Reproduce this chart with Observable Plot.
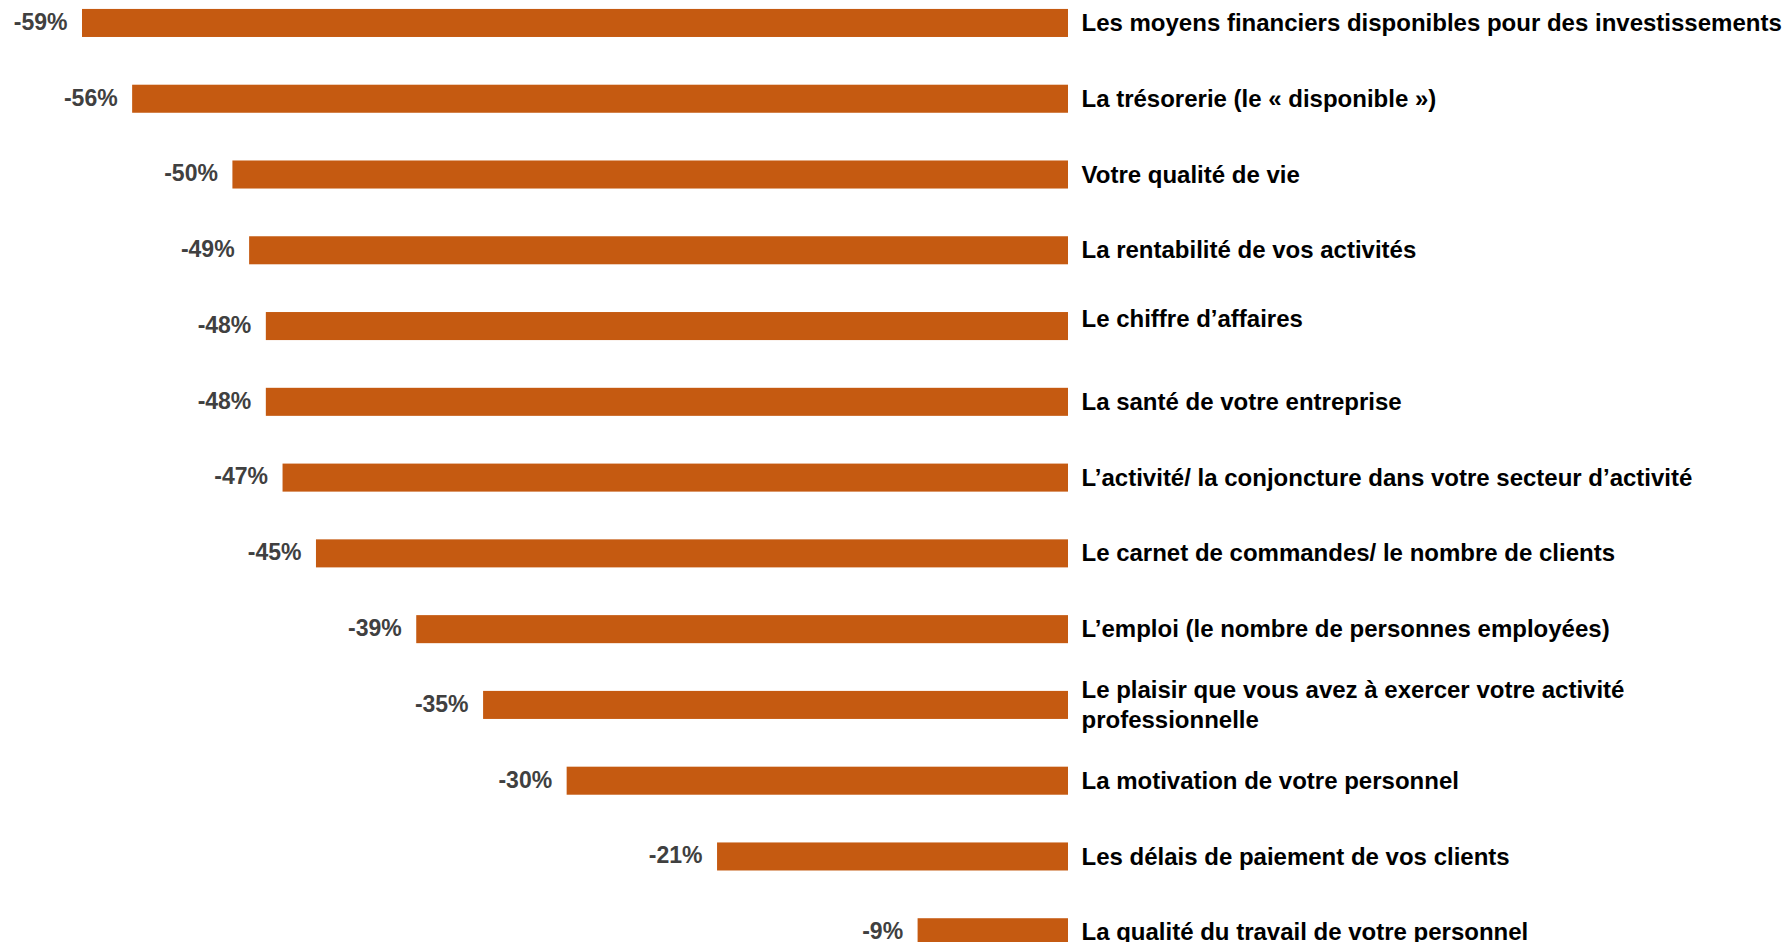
<!DOCTYPE html>
<html>
<head>
<meta charset="utf-8">
<script src="https://cdn.jsdelivr.net/npm/d3@7"></script>
<script src="https://cdn.jsdelivr.net/npm/@observablehq/plot@0.6"></script>
<style>
  html, body { margin: 0; padding: 0; background: #ffffff; overflow: hidden; }
  #chart svg { display: block; }
</style>
</head>
<body>
<div id="chart"></div>
<script>
const categories = [
  "Les moyens financiers disponibles pour des investissements",
  "La trésorerie (le « disponible »)",
  "Votre qualité de vie",
  "La rentabilité de vos activités",
  "Le chiffre d’affaires",
  "La santé de votre entreprise",
  "L’activité/ la conjoncture dans votre secteur d’activité",
  "Le carnet de commandes/ le nombre de clients",
  "L’emploi (le nombre de personnes employées)",
  "Le plaisir que vous avez à exercer votre activité\nprofessionnelle",
  "La motivation de votre personnel",
  "Les délais de paiement de vos clients",
  "La qualité du travail de votre personnel"
];
const values = [-59, -56, -50, -49, -48, -48, -47, -45, -39, -35, -30, -21, -9];
const valueLabels = ["-59%", "-56%", "-50%", "-49%", "-48%", "-48%", "-47%", "-45%", "-39%", "-35%", "-30%", "-21%", "-9%"];

const data = categories.map((c, i) => ({cat: c, value: values[i], label: valueLabels[i]}));

const font = "'Liberation Sans', Arial, Helvetica, sans-serif";

// In the original, the "Le chiffre d’affaires" label sits a little above its bar
const raised = new Set([categories[4]]);
const labelOpts = {x: 0, y: "cat", text: "cat", textAnchor: "start", dx: 13,
  fill: "#000000", fontWeight: "bold", fontSize: 24, lineHeight: 1.24, lineAnchor: "middle"};

const chart = Plot.plot({
  width: 1784,
  height: 942,
  marginLeft: 82,
  marginRight: 716,
  marginTop: 0,
  marginBottom: 0,
  style: {fontFamily: font, background: "#ffffff", overflow: "visible"},
  x: {domain: [d3.min(values), 0], axis: null},
  y: {domain: categories, range: [-38.8, 994], padding: 0.63, round: false, axis: null},
  marks: [
    Plot.barX(data, {x1: "value", x2: 0, y: "cat", fill: "#C55A11"}),
    Plot.text(data, {x: "value", y: "cat", text: "label", textAnchor: "end", dx: -15, dy: -1,
      fill: "#404040", fontWeight: "bold", fontSize: 23}),
    Plot.text(data.filter(d => !raised.has(d.cat)), {...labelOpts, dy: -2}),
    Plot.text(data.filter(d => raised.has(d.cat)), {...labelOpts, dy: -9})
  ]
});
document.getElementById("chart").appendChild(chart);
</script>
</body>
</html>
